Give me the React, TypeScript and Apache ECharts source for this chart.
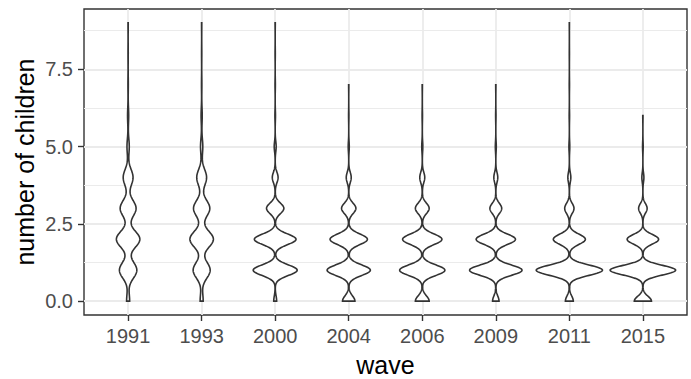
import React, { useEffect, useRef } from "react";
import * as echarts from "echarts";

// Survey waves (x categories)
const waves = ["1991", "1993", "2000", "2004", "2006", "2009", "2011", "2015"];

// Share of respondents with 0, 1, 2, ... children in each wave
const share1991 = [0.04, 0.23, 0.31, 0.21, 0.13, 0.03, 0.015, 0.005, 0.003, 0.003];
const share1993 = [0.04, 0.225, 0.31, 0.215, 0.13, 0.03, 0.015, 0.005, 0.003, 0.003];
const share2000 = [0.025, 0.38, 0.36, 0.15, 0.05, 0.017, 0.005, 0.003, 0.002, 0.002];
const share2004 = [0.107, 0.374, 0.323, 0.124, 0.043, 0.009, 0.003, 0.002];
const share2006 = [0.119, 0.391, 0.34, 0.119, 0.043, 0.009, 0.003, 0.002];
const share2009 = [0.054, 0.44, 0.33, 0.099, 0.033, 0.008, 0.003, 0.002];
const share2011 = [0.066, 0.556, 0.269, 0.078, 0.025, 0.007, 0.003, 0.002, 0.001, 0.001];
const share2015 = [0.135, 0.516, 0.248, 0.067, 0.016, 0.005, 0.002];

// Kernel bandwidth for each wave's density estimate
const bandwidths = [0.26, 0.26, 0.17, 0.17, 0.17, 0.165, 0.165, 0.155];

const yBreaks = [0, 2.5, 5, 7.5];
const yMinorBreaks = [1.25, 3.75, 6.25, 8.75];
const xBreaks = [0, 1, 2, 3, 4, 5, 6, 7];

const shares = [share1991, share1993, share2000, share2004, share2006, share2009, share2011, share2015];

const SQ2PI = Math.sqrt(2 * Math.PI);
const NPTS = 400;

function densityProfile(share: number[], h: number) {
  const top = share.length - 1;
  const out: [number, number][] = [];
  for (let j = 0; j <= NPTS; j++) {
    const y = (top * j) / NPTS;
    let d = 0;
    for (let k = 0; k < share.length; k++) {
      const z = (y - k) / h;
      d += (share[k] * Math.exp(-0.5 * z * z)) / (h * SQ2PI);
    }
    out.push([y, d]);
  }
  return out;
}

const profiles = shares.map((s, i) => densityProfile(s, bandwidths[i]));
const dMax = Math.max(...profiles.map((p) => Math.max(...p.map((q) => q[1]))));

const FONT = "Liberation Sans, Arial, Helvetica, sans-serif";

export default function App() {
  const ref = useRef<HTMLDivElement>(null);
  useEffect(() => {
    if (!ref.current) return;
    document.body.style.margin = "0";
    const chart = echarts.init(ref.current, undefined, { renderer: "svg" });
    const option: any = {
      animation: false,
      textStyle: { fontFamily: FONT },
      grid: {
        left: 84,
        top: 9,
        width: 603,
        height: 306,
        show: true,
        borderColor: "#333333",
        borderWidth: 1.4,
        backgroundColor: "transparent",
        containLabel: false,
        outerBoundsMode: "none",
      },
      xAxis: {
        type: "value",
        min: -0.6,
        max: 7.6,
        axisLine: { show: false, onZero: false },
        axisTick: { show: true, customValues: xBreaks, length: 6, lineStyle: { color: "#333333", width: 1.4 } },
        axisLabel: {
          customValues: xBreaks,
          formatter: (v: number) => waves[Math.round(v)] ?? "",
          fontSize: 20,
          color: "#4D4D4D",
          margin: 11,
          fontFamily: FONT,
        },
        splitLine: { show: true, lineStyle: { color: "#EBEBEB", width: 1.8 } },
        name: "wave",
        nameLocation: "middle",
        nameGap: 37,
        nameMoveOverlap: false,
        nameTextStyle: { fontSize: 25, color: "#000000", fontFamily: FONT },
      },
      yAxis: [
        {
          type: "value",
          min: -0.45,
          max: 9.45,
          axisLine: { show: false, onZero: false },
          axisTick: { show: true, customValues: yBreaks, length: 6, lineStyle: { color: "#333333", width: 1.4 } },
          axisLabel: {
            customValues: yBreaks,
            formatter: (v: number) => v.toFixed(1),
            fontSize: 20,
            color: "#4D4D4D",
            margin: 11,
            fontFamily: FONT,
          },
          splitLine: { show: true, lineStyle: { color: "#EBEBEB", width: 1.8 } },
          name: "number of children",
          nameLocation: "middle",
          nameGap: 47,
          nameMoveOverlap: false,
          nameTextStyle: { fontSize: 25, color: "#000000", fontFamily: FONT },
        },
        {
          type: "value",
          min: -0.45,
          max: 9.45,
          position: "left",
          axisLine: { show: false, onZero: false },
          axisTick: { show: false, customValues: yMinorBreaks },
          axisLabel: { show: false, customValues: yMinorBreaks },
          splitLine: { show: true, lineStyle: { color: "#EBEBEB", width: 1.1 } },
        },
      ],
      series: [
        {
          type: "custom",
          xAxisIndex: 0,
          yAxisIndex: 0,
          data: waves.map((_, i) => [i, shares[i].length - 1]),
          encode: { x: 0, y: 1 },
          renderItem: (params: any, api: any) => {
            const i = api.value(0);
            const prof = profiles[i];
            const right: number[][] = [];
            const left: number[][] = [];
            for (const [y, d] of prof) {
              const hw = (0.45 * d) / dMax;
              right.push(api.coord([i + hw, y]));
              left.push(api.coord([i - hw, y]));
            }
            const points = right.concat(left.reverse());
            return {
              type: "polygon",
              shape: { points },
              style: { fill: "#FFFFFF", stroke: "#333333", lineWidth: 1.6 },
            };
          },
          z: 5,
        },
      ],
    };
    chart.setOption(option);
    return () => chart.dispose();
  }, []);
  return <div ref={ref} style={{ width: 691, height: 379 }} />;
}
